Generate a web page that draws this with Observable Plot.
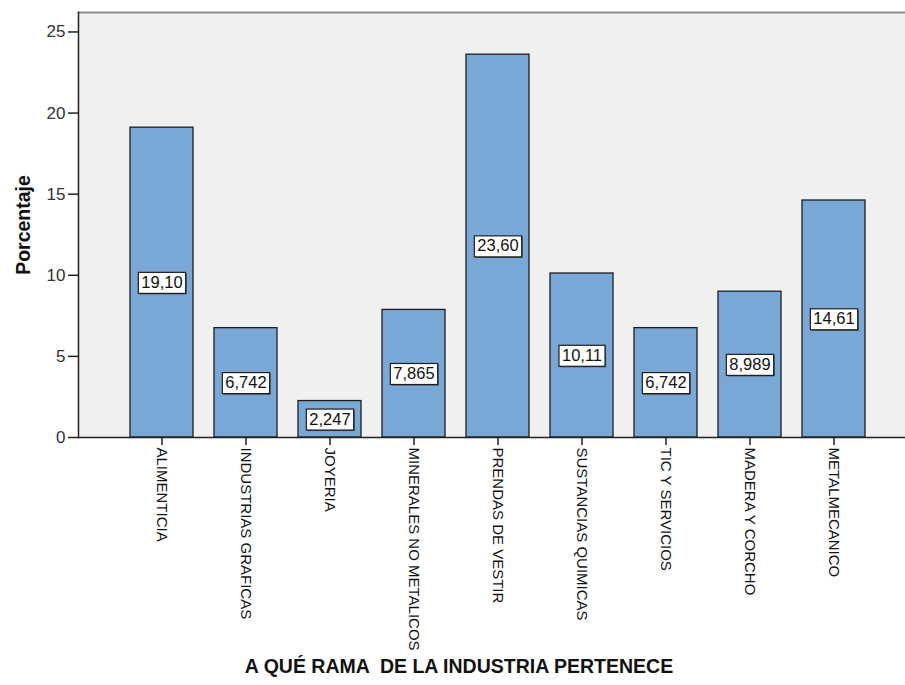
<!DOCTYPE html>
<html><head><meta charset="utf-8">
<script src="https://cdn.jsdelivr.net/npm/d3@7"></script>
<script src="https://cdn.jsdelivr.net/npm/@observablehq/plot@0.6"></script>
<style>
body{margin:0;background:#fff}
.xtitle text{white-space:pre}
</style>
</head><body><div id="chart"></div>
<script>
const categories = ["ALIMENTICIA","INDUSTRIAS GRAFICAS","JOYERIA","MINERALES NO METALICOS","PRENDAS DE VESTIR","SUSTANCIAS QUIMICAS","TIC Y SERVICIOS","MADERA Y CORCHO","METALMECANICO"];
const values = [19.10, 6.742, 2.247, 7.865, 23.60, 10.11, 6.742, 8.989, 14.61];
const valueLabels = ["19,10","6,742","2,247","7,865","23,60","10,11","6,742","8,989","14,61"];
const yTicks = [0, 5, 10, 15, 20, 25];
const yTitle = "Porcentaje";
const xTitle = "A QUÉ RAMA  DE LA INDUSTRIA PERTENECE";

const data = categories.map((c, i) => ({cat: c, value: values[i], label: valueLabels[i]}));

const chart = Plot.plot({
  width: 905, height: 685,
  marginLeft: 78, marginRight: 0, marginTop: 12, marginBottom: 248,
  style: {fontFamily: "'Liberation Sans', Arial, sans-serif", background: "#fff"},
  x: {domain: categories, range: [119.5, 875.5], paddingInner: 0.25, paddingOuter: 0.125},
  y: {domain: [0, 26.2]},
  marks: [
    Plot.frame({fill: "#f0f0f0", stroke: null}),
    Plot.frame({anchor: "top", stroke: "#8a8a8a", strokeWidth: 2}),
    Plot.barY(data, {x: "cat", y: "value", fill: "#79a7d6", stroke: "#1e1e1e", strokeWidth: 1.3}),
    Plot.frame({anchor: "left", stroke: "#222", strokeWidth: 1.5}),
    Plot.ruleY([0], {stroke: "#222", strokeWidth: 1.5}),
    Plot.text(data, {x: "cat", y: d => d.value / 2, text: "label", fontSize: 16.5, fill: "#111", className: "vlabel"}),
    Plot.axisY({ticks: yTicks, tickSize: 10, tickPadding: 3, fontSize: 17, fill: "#333", stroke: "#222", strokeWidth: 1.5, label: null}),
    Plot.axisX({tickRotate: 90, tickSize: 8, tickPadding: 2, fontSize: 15, fill: "#111", stroke: "#222", strokeWidth: 1.5, label: null}),
    Plot.text([yTitle], {frameAnchor: "left", textAnchor: "middle", dx: -55, rotate: -90, fontSize: 19.5, fontWeight: "bold", fill: "#111"}),
    Plot.text([xTitle], {frameAnchor: "bottom", dx: -33, dy: 235, fontSize: 19.5, fontWeight: "bold", fill: "#111", className: "xtitle"})
  ]
});
document.getElementById("chart").appendChild(chart);

// white boxes behind value labels
chart.querySelectorAll(".vlabel text").forEach(t => {
  const bb = t.getBBox();
  const ns = "http://www.w3.org/2000/svg";
  const tr = t.getAttribute("transform");
  const mk = (dx, dy, fill, stroke) => {
    const r = document.createElementNS(ns, "rect");
    r.setAttribute("x", bb.x - 3 + dx);
    r.setAttribute("y", bb.y - 0.5 + dy);
    r.setAttribute("width", bb.width + 6);
    r.setAttribute("height", bb.height + 3);
    r.setAttribute("fill", fill);
    if (stroke) { r.setAttribute("stroke", stroke); r.setAttribute("stroke-width", 1.2); }
    if (tr) r.setAttribute("transform", tr);
    t.parentNode.insertBefore(r, t);
  };
  mk(1, 1, "#444", null);
  mk(0, 0, "#fff", "#1e1e1e");
});
</script>
</body></html>
